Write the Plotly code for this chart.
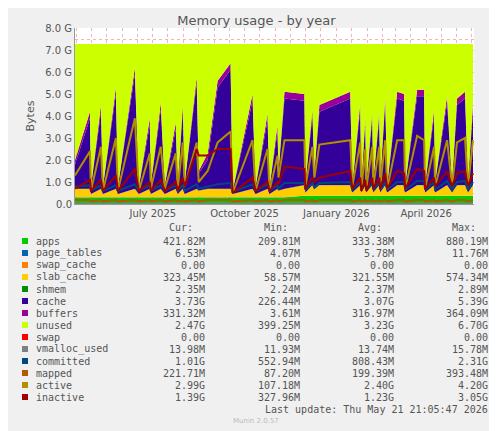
import pandas as pd
import plotly.graph_objects as go

# day offsets from the start of the graph (2025-04-14)
start = pd.Timestamp('2025-04-14')
days = [0, 15, 16, 26, 28, 41, 43, 60, 64, 75, 76, 86, 90, 101, 103, 108, 110, 122, 124, 133,
        143, 156, 158, 178, 181, 193, 195, 203, 204, 210, 230, 231, 238, 240, 245, 276, 278, 286, 287, 291,
        292, 298, 299, 305, 306, 311, 313, 323, 330, 331, 343, 350, 351, 360, 361, 373, 378, 383, 391, 394, 399]

# values in GB
apps = [0.30, 0.30, 0.30, 0.30, 0.30, 0.30, 0.30, 0.30, 0.30, 0.30, 0.30, 0.30, 0.30, 0.30, 0.30, 0.30, 0.30, 0.30, 0.30, 0.30,
        0.30, 0.30, 0.30, 0.30, 0.30, 0.30, 0.30, 0.30, 0.30, 0.30, 0.37, 0.37, 0.37, 0.37, 0.37, 0.37, 0.37, 0.37, 0.37, 0.37,
        0.37, 0.37, 0.37, 0.37, 0.37, 0.37, 0.37, 0.37, 0.37, 0.37, 0.37, 0.37, 0.37, 0.37, 0.37, 0.37, 0.37, 0.37, 0.37, 0.37, 0.37]
slab_cache = [0.38, 0.38, 0.15, 0.38, 0.15, 0.38, 0.15, 0.38, 0.15, 0.38, 0.15, 0.38, 0.15, 0.38, 0.15, 0.38, 0.15, 0.38, 0.30, 0.38,
              0.38, 0.38, 0.15, 0.38, 0.15, 0.38, 0.15, 0.38, 0.30, 0.38, 0.48, 0.15, 0.48, 0.30, 0.48, 0.48, 0.15, 0.48, 0.15, 0.48,
              0.15, 0.48, 0.15, 0.48, 0.15, 0.48, 0.15, 0.48, 0.48, 0.15, 0.48, 0.48, 0.15, 0.48, 0.15, 0.48, 0.15, 0.48, 0.48, 0.15, 0.48]
buffers = [0.20, 0.30, 0.03, 0.30, 0.03, 0.30, 0.03, 0.30, 0.03, 0.30, 0.03, 0.30, 0.03, 0.30, 0.03, 0.30, 0.03, 0.30, 0.10, 0.30,
           0.30, 0.30, 0.03, 0.30, 0.03, 0.30, 0.03, 0.30, 0.10, 0.30, 0.30, 0.03, 0.30, 0.10, 0.30, 0.30, 0.03, 0.30, 0.03, 0.30,
           0.03, 0.30, 0.03, 0.30, 0.03, 0.30, 0.03, 0.30, 0.30, 0.03, 0.30, 0.30, 0.03, 0.30, 0.03, 0.30, 0.03, 0.30, 0.30, 0.03, 0.30]
cache = [1.11, 3.21, 0.31, 3.51, 0.31, 4.31, 0.31, 5.21, 0.31, 2.91, 0.41, 3.61, 0.41, 2.71, 0.41, 3.51, 0.51, 4.81, 0.79, 1.31,
         4.61, 5.41, 0.11, 4.01, 0.31, 3.11, 0.31, 2.61, 0.79, 4.11, 3.84, 0.44, 3.14, 0.72, 3.34, 3.94, 0.34, 3.44, 0.24, 2.84,
         0.34, 3.04, 0.44, 3.04, 0.44, 3.74, 0.34, 3.94, 3.84, 0.34, 4.04, 4.04, 0.34, 3.14, 0.44, 3.74, 0.44, 3.64, 3.94, 0.44, 3.44]
page_tables = [0.006] * len(days)
shmem = [0.002] * len(days)
swap_cache = [0.0] * len(days)
swap = [0.0] * len(days)
vmalloc_used = [0.014] * len(days)
active = [1.3, 2.4, 0.6, 2.6, 0.6, 3.0, 0.6, 3.9, 0.6, 2.3, 0.7, 2.6, 0.7, 2.3, 0.7, 2.8, 0.8, 2.8, 1.0, 1.5,
          2.8, 3.3, 0.5, 2.9, 0.6, 2.5, 0.6, 2.2, 1.2, 2.9, 2.9, 0.8, 2.6, 1.2, 2.7, 2.9, 0.8, 2.8, 0.6, 2.5,
          0.7, 2.6, 0.8, 2.6, 0.8, 2.9, 0.7, 2.9, 2.9, 0.7, 3.1, 2.9, 0.7, 2.6, 0.8, 2.9, 0.8, 2.8, 3.0, 0.8, 2.9]
inactive = [0.7, 1.1, 0.6, 1.1, 0.6, 1.3, 0.6, 1.6, 0.6, 1.0, 0.6, 1.1, 0.6, 1.0, 0.6, 1.2, 0.8, 2.5, 2.2, 2.2,
            2.5, 2.5, 0.5, 1.2, 0.6, 1.0, 0.6, 1.0, 0.9, 1.7, 1.6, 0.7, 1.2, 1.0, 1.2, 1.5, 0.7, 1.2, 0.6, 1.1,
            0.6, 1.2, 0.7, 1.2, 0.7, 1.4, 0.7, 1.5, 1.4, 0.7, 1.6, 1.5, 0.7, 1.2, 0.8, 1.5, 0.8, 1.4, 1.5, 0.8, 1.4]
committed = [0.80, 0.85, 0.60, 0.85, 0.60, 0.85, 0.60, 0.90, 0.60, 0.85, 0.60, 0.85, 0.60, 0.85, 0.60, 0.85, 0.60, 0.90, 0.70, 0.80,
             0.90, 0.95, 0.55, 0.90, 0.60, 0.90, 0.60, 0.85, 0.70, 0.95, 0.95, 0.65, 0.95, 0.75, 0.95, 1.00, 0.65, 1.00, 0.60, 0.95,
             0.65, 0.95, 0.65, 0.95, 0.65, 1.00, 0.65, 1.00, 1.00, 0.65, 1.05, 1.05, 0.65, 1.00, 0.65, 1.05, 0.65, 1.00, 1.05, 0.65, 1.00]
mapped = [0.18 if c > 1 else 0.12 for c in cache]
total = 7.27

legend_rows = [
    ('apps', '#00CC00', '421.82M', '209.81M', '333.38M', '880.19M'),
    ('page_tables', '#0066B3', '6.53M', '4.07M', '5.78M', '11.76M'),
    ('swap_cache', '#FF8000', '0.00', '0.00', '0.00', '0.00'),
    ('slab_cache', '#FFCC00', '323.45M', '58.57M', '321.55M', '574.34M'),
    ('shmem', '#008F00', '2.35M', '2.24M', '2.37M', '2.89M'),
    ('cache', '#330099', '3.73G', '226.44M', '3.07G', '5.39G'),
    ('buffers', '#990099', '331.32M', '3.61M', '316.97M', '364.09M'),
    ('unused', '#CCFF00', '2.47G', '399.25M', '3.23G', '6.70G'),
    ('swap', '#FF0000', '0.00', '0.00', '0.00', '0.00'),
    ('vmalloc_used', '#808080', '13.98M', '11.93M', '13.74M', '15.78M'),
    ('committed', '#00487D', '1.01G', '552.94M', '808.43M', '2.31G'),
    ('mapped', '#B35A00', '221.71M', '87.20M', '199.39M', '393.48M'),
    ('active', '#B38F00', '2.99G', '107.18M', '2.40G', '4.20G'),
    ('inactive', '#A00000', '1.39G', '327.96M', '1.23G', '3.05G'),
]
colors = {r[0]: r[1] for r in legend_rows}

x = [start + pd.Timedelta(days=d) for d in days]
used = [a + p + s + sl + sh + c + b for a, p, s, sl, sh, c, b in
        zip(apps, page_tables, swap_cache, slab_cache, shmem, cache, buffers)]
unused = [total - u for u in used]

fig = go.Figure()
stacked = [('apps', apps), ('page_tables', page_tables), ('swap_cache', swap_cache),
           ('slab_cache', slab_cache), ('shmem', shmem), ('cache', cache),
           ('buffers', buffers), ('unused', unused), ('swap', swap)]
for name, vals in stacked:
    fig.add_trace(go.Scatter(x=x, y=vals, name=name, stackgroup='one', mode='lines',
                             line=dict(width=0, color=colors[name]),
                             fillcolor=colors[name]))
for name, vals in [('vmalloc_used', vmalloc_used), ('committed', committed), ('mapped', mapped),
                   ('active', active), ('inactive', inactive)]:
    fig.add_trace(go.Scatter(x=x, y=vals, name=name, mode='lines',
                             line=dict(width=2, color=colors[name])))

# x ticks: grid every half month, labels at quarters
xtick_vals = []
xtick_text = []
for m in pd.date_range('2025-04-01', '2026-05-01', freq='MS'):
    for dd in (0, 15):
        xtick_vals.append(m + pd.Timedelta(days=dd))
        lab = m.strftime('%B %Y') if dd == 0 and m.month in (1, 4, 7, 10) and m.year * 12 + m.month > 2025 * 12 + 4 else ''
        xtick_text.append(lab)
ytick_vals = [i * 0.5 for i in range(17)]
ytick_text = [('0.0' if v == 0 else f'{v:.1f} G') if v == int(v) else '' for v in ytick_vals]

grid = 'rgba(230,120,120,0.55)'
fig.update_layout(
    width=497, height=431,
    margin=dict(l=67, r=31, t=20, b=235),
    paper_bgcolor='#F0F0F0', plot_bgcolor='white',
    showlegend=False,
    font=dict(family='DejaVu Sans', size=10, color='#555555'),
    title=dict(text='Memory usage - by year', x=0.5, xanchor='center', y=0.982, yanchor='top',
               font=dict(size=13, color='#555555')),
    xaxis=dict(range=[start, start + pd.Timedelta(days=400)], tickvals=xtick_vals, ticktext=xtick_text,
               showgrid=True, gridcolor=grid, griddash='dot', gridwidth=1, ticks='', layer='above traces',
               showline=True, linecolor='#999', tickangle=0, zeroline=False),
    yaxis=dict(range=[0, 8.0], tickvals=ytick_vals, ticktext=ytick_text, showgrid=True, gridcolor=grid,
               griddash='dot', ticks='', layer='above traces', showline=True, linecolor='#999',
               title=dict(text='Bytes', standoff=8, font=dict(size=11)), zeroline=False),
)


def px(v):
    return (v - 67) / 399


def py(v):
    return (203 - v) / 176


mono = dict(family='DejaVu Sans Mono', size=10, color='#555555')
for hdr, xr in [('Cur:', 187), ('Min:', 282), ('Avg:', 376), ('Max:', 470)]:
    fig.add_annotation(x=px(xr), y=py(227), text=hdr, showarrow=False, xref='paper', yref='paper',
                       xanchor='right', yanchor='middle', font=mono)
for i, (name, col, cur, mn, avg, mx) in enumerate(legend_rows):
    yy = py(240 + 12 * i)
    fig.add_shape(type='rect', xref='paper', yref='paper', x0=px(14), x1=px(20),
                  y0=yy - 3 / 176, y1=yy + 3 / 176, fillcolor=col, line=dict(width=0))
    fig.add_annotation(x=px(26), y=yy, text=name, showarrow=False, xref='paper', yref='paper',
                       xanchor='left', yanchor='middle', font=mono)
    for val, xr in [(cur, 199), (mn, 294), (avg, 388), (mx, 482)]:
        fig.add_annotation(x=px(xr), y=yy, text=val, showarrow=False, xref='paper', yref='paper',
                           xanchor='right', yanchor='middle', font=mono)
fig.add_annotation(x=px(482), y=py(408), text='Last update: Thu May 21 21:05:47 2026', showarrow=False,
                   xref='paper', yref='paper', xanchor='right', yanchor='middle', font=mono)
fig.add_annotation(x=px(248), y=py(420), text='Munin 2.0.57', showarrow=False, xref='paper', yref='paper',
                   xanchor='center', yanchor='middle', font=dict(family='DejaVu Sans', size=7, color='#BBBBBB'))
fig.add_annotation(x=px(486), y=py(60), text='RRDTOOL / TOBI OETIKER', showarrow=False, xref='paper',
                   yref='paper', textangle=90, xanchor='center', yanchor='middle',
                   font=dict(family='DejaVu Sans', size=7, color='#BBBBBB'))

fig.write_html('out.html')
